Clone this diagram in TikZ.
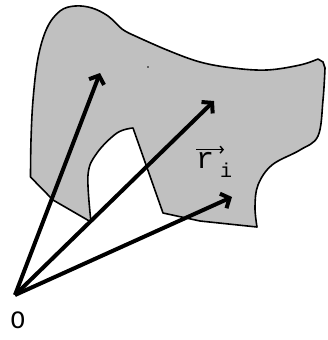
\documentclass[tikz,border=0pt]{standalone}
\usepackage{fontspec}
\setmonofont{Liberation Mono}
\usetikzlibrary{arrows.meta}
\definecolor{regiongray}{RGB}{192,192,192}
\tikzset{
  vecarrow/.style={line width=4pt, -{Straight Barb[length=7pt,width=16pt,line width=4pt]}},
  region/.style={draw=black, line width=1.6pt, fill=regiongray, line join=round},
  lbl/.style={inner sep=0pt, font=\ttfamily\fontsize{25}{25}\selectfont},
  biglbl/.style={inner sep=0pt, font=\ttfamily\fontsize{30}{30}\selectfont},
  sublbl/.style={inner sep=0pt, font=\ttfamily\fontsize{20}{20}\selectfont}
}
\begin{document}
\begin{tikzpicture}[x=1pt,y=-1pt]
\useasboundingbox (0,0) rectangle (327,340);
% region with notch
\draw[region] (30.5,177)
  -- plot[smooth, tension=0.6] coordinates {(30.5,177) (31,140) (33,100) (38,58) (47,28) (60,11) (75,6) (92,8) (108,16) (122,29) (133,35)}
  -- plot[smooth, tension=0.6] coordinates {(133,35) (167,50) (200,62) (233,68) (267,70) (300,65) (318,59)}
  -- (323,62) -- (325,68)
  -- plot[smooth, tension=0.6] coordinates {(325,68) (323,100) (318,136) (300,150) (272,165) (258,185) (255,207) (257,227)}
  -- (200,221) -- (163,213) -- (133,128)
  -- plot[smooth, tension=0.6] coordinates {(133,128) (117,133) (97,153) (88,175) (91,222)}
  -- (53,200) -- cycle;
\fill (148,67) circle (0.8pt);
\coordinate (O) at (15,295);
\coordinate (r1) at (100,73);
\coordinate (r2) at (214,101);
\coordinate (r3) at (232,197);
\draw[vecarrow] (O) -- (r1);
\draw[vecarrow] (O) -- (r2);
\draw[vecarrow] (O) -- (r3);
\node[lbl, anchor=base] (Olab) at (18,328) {O};
\node[biglbl, anchor=base west] (rlab) at (196,168) {r};
\draw[line width=1.4pt, -{Straight Barb[length=3pt,width=7pt]}] (rlab.north west) ++(0,-2) coordinate (arrs) -- ++(28,0) coordinate (arre);
\node[sublbl, anchor=base west] (ilab) at (220,177) {i};
\end{tikzpicture}
\end{document}
